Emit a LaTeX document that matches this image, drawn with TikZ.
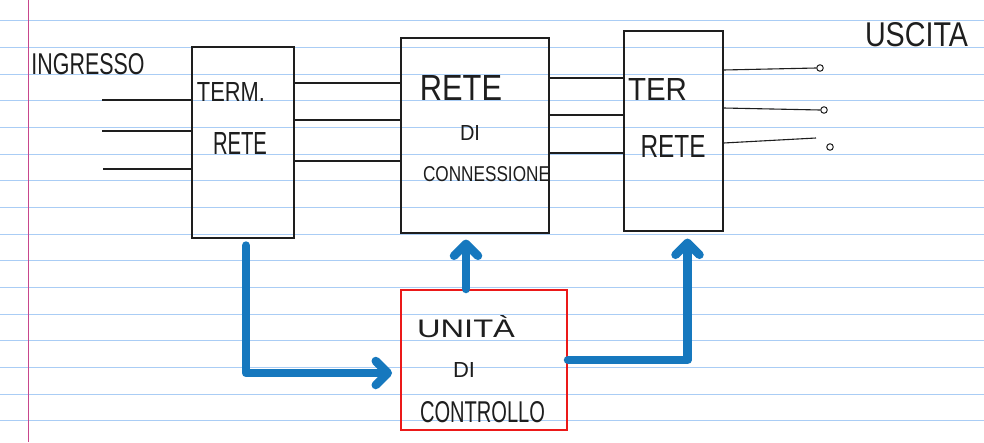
\documentclass[tikz,border=0pt]{standalone}
\usepackage{fontspec}
\setmainfont{Liberation Sans}
\usetikzlibrary{arrows.meta}
\definecolor{ruleblue}{RGB}{170,205,245}
\definecolor{marginred}{RGB}{200,70,140}
\definecolor{penblue}{RGB}{22,120,190}
\definecolor{penred}{RGB}{235,25,25}
\definecolor{ink}{RGB}{30,30,30}
\newcommand{\hwt}[3]{\resizebox{#1pt}{#2pt}{#3}}
\begin{document}
\begin{tikzpicture}[x=1pt,y=-1pt,
  blockbox/.style={draw=ink,line width=1.1pt,inner sep=0pt},
  ctrlbox/.style={draw=penred,line width=2pt,inner sep=0pt},
  txt/.style={inner sep=0pt,text=ink},
  wire/.style={draw=ink,line width=1.1pt},
  contact/.style={circle,draw=ink,line width=1pt,inner sep=0pt,minimum size=6.5pt},
  ctrlarrow/.style={draw=penblue,line width=8.5pt,line cap=round,line join=round,
    -{Straight Barb[length=12pt,width=24pt,round]}}]
\useasboundingbox (0,0) rectangle (984,442);
\fill[white] (0,0) rectangle (984,442);
% notebook rules
\foreach \k in {0,...,15}{
  \draw[ruleblue,line width=1pt] (0,{20.67+26.67*\k}) -- (984,{20.67+26.67*\k});
}
\draw[marginred,line width=1pt] (28.3,0) -- (28.3,442);

% blocks
\node[blockbox,minimum width=102pt,minimum height=191pt] (b1) at (243,142.5) {};
\node[blockbox,minimum width=148pt,minimum height=195pt] (b2) at (475,135.5) {};
\node[blockbox,minimum width=99pt,minimum height=200pt] (b3) at (673.5,131) {};
\node[ctrlbox,minimum width=166pt,minimum height=140pt] (cu) at (484,360) {};

% texts
\node[txt] (tin) at (88,64) {\hwt{113}{21}{INGRESSO}};
\node[txt] (tout) at (916.5,35) {\hwt{103}{24}{USCITA}};
\node[txt] (t1a) at (231,92) {\hwt{68}{19}{TERM.}};
\node[txt] (t1b) at (240,143.5) {\hwt{54}{22}{RETE}};
\node[txt] (t2a) at (461,87.5) {\hwt{82}{25}{RETE}};
\node[txt] (t2b) at (470,132.5) {\hwt{20}{15}{DI}};
\node[txt] (t2c) at (486.5,174.5) {\hwt{127}{15}{CONNESSIONE}};
\node[txt] (t3a) at (657.5,89) {\hwt{59}{22}{TER}};
\node[txt] (t3b) at (673,146) {\hwt{65}{22}{RETE}};
\node[txt] (tca) at (466,327) {\hwt{98}{22}{UNITÀ}};
\node[txt] (tcb) at (464,369.5) {\hwt{22}{15}{DI}};
\node[txt] (tcc) at (482.5,412.5) {\hwt{125}{21}{CONTROLLO}};

% inputs
\coordinate (in1) at (102,100);
\coordinate (in2) at (102,131);
\coordinate (in3) at (103,169);
\draw[wire] (in1) -- (b1.west |- in1);
\draw[wire] (in2) -- (b1.west |- in2);
\draw[wire] (in3) -- (b1.west |- in3);

% b1 -> b2
\draw[wire] (b1.east |- 0,83) -- (b2.west |- 0,83);
\draw[wire] (b1.east |- 0,120) -- (b2.west |- 0,120);
\draw[wire] (b1.east |- 0,161) -- (b2.west |- 0,161);
% b2 -> b3
\draw[wire] (b2.east |- 0,78) -- (b3.west |- 0,78);
\draw[wire] (b2.east |- 0,115) -- (b3.west |- 0,115);
\draw[wire] (b2.east |- 0,153) -- (b3.west |- 0,153);

% outputs
\node[contact] (o1) at (820,68) {};
\node[contact] (o2) at (824,110) {};
\node[contact] (o3) at (830,147) {};
\draw[wire] (b3.east |- 0,70) -- (o1.west);
\draw[wire] (b3.east |- 0,108) -- (o2.west);
\draw[wire] (b3.east |- 0,143) -- (816,138);

% control arrows
\coordinate (aStart) at ([xshift=3pt,yshift=-7pt]b1.south);
\coordinate (aEnd) at ([xshift=-8pt,yshift=-13pt]cu.west);
\draw[ctrlarrow] (aStart) |- (aEnd);
\coordinate (bStart) at ([xshift=-18pt]cu.north);
\coordinate (bEnd) at ([xshift=-18pt,yshift=-6pt]cu.north |- b2.south);
\draw[ctrlarrow] (bStart) -- (bEnd);
\coordinate (cEnd) at ([xshift=14pt,yshift=-7pt]b3.south);
\draw[ctrlarrow] (cu.east) -| (cEnd);
\end{tikzpicture}
\end{document}
